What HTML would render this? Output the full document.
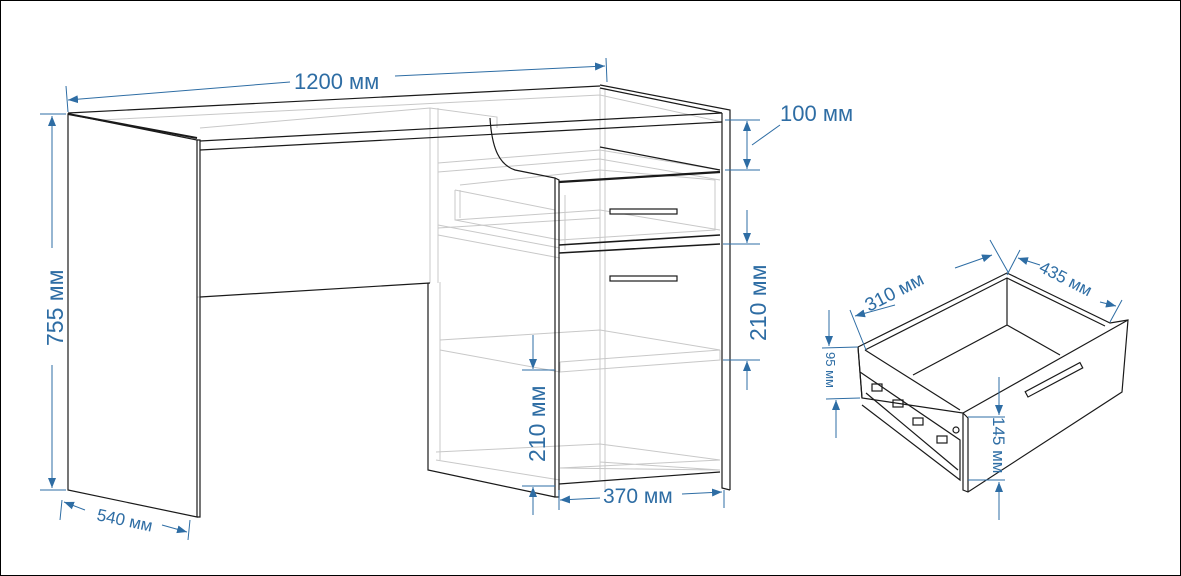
<!DOCTYPE html>
<html><head><meta charset="utf-8"><style>
html,body{margin:0;padding:0;background:#fff;}
svg{display:block;}
text{font-family:"Liberation Sans",sans-serif;fill:#2e6da4;}
</style></head><body>
<svg width="1181" height="576" viewBox="0 0 1181 576" xmlns="http://www.w3.org/2000/svg">
<defs>
<marker id="a" viewBox="0 0 10 10" refX="10" refY="5" markerWidth="10" markerHeight="10" orient="auto-start-reverse" markerUnits="userSpaceOnUse"><path d="M0,1 L10,5 L0,9 Z" fill="#2e6da4"/></marker>
</defs>
<rect x="0.5" y="0.5" width="1180" height="575" fill="#fff" stroke="#000"/>

<g stroke="#c8c8c8" fill="none" stroke-width="1">
<path d="M80,125 L80,300 L85,300 L85,128 M85,128 L197,148 M80,300 L200,297"/>
<path d="M200,128 L430,108 L497,117 L497,128 M430,108 L430,283 M438,108 L438,283"/>
<path d="M80,121 L600,95 L722,122 M600,88 L600,148 M605,88 L605,490 M600,148 L600,480"/>
<path d="M438,163 L600,150 L720,170 M438,172 L600,159 L720,180"/>
<path d="M455,190 L455,220 L560,240 M460,190 L460,218 M455,190 L555,210 M460,185 L600,170 L715,180 L715,230 L560,240 M455,220 L600,210 L720,230 M565,195 L565,250"/>
<path d="M438,225 L560,248 M438,235 L560,258 M438,228 L600,218"/>
<path d="M440,340 L600,330 L720,350 L560,362 M440,350 L560,372 M440,340 L440,350 M560,362 L560,372 L720,360 L720,350"/>
<path d="M436,452 L600,444 L720,460 L560,468 M436,460 L560,480 M560,468 L720,470 M600,444 L600,462 L720,470"/>
<path d="M440,282 L440,460"/>
</g>

<g stroke="#1a1a1a" fill="none" stroke-width="1.2">
<path d="M68,114 L68,490 L197,517 L197,140 Z" fill="#fff"/>
<path d="M197,140 L200,140 L200,517 L197,517" />
<path d="M68,114 L197,138" stroke-width="2"/>
<path d="M68,113 L600,86"/>
<path d="M200,141 L722,113 M200,150 L722,122"/>
<path d="M600,85 L730,110 L730,490 M600,88 L722,113"/>
<path d="M722,113 L722,488 L730,490" />
<path d="M200,297 L430,283"/>
<path d="M428,283 L428,470 L555,497"/>
<path d="M490,118 C492,150 500,165 515,170 L555,178 L555,497 L559,497 L559,180 L555,178"/>
<path d="M600,147 L720,170"/>
<path d="M559,182 L720,172" stroke-width="2.2"/>
<path d="M559,245 L720,235 M559,253 L720,244" stroke-width="1.6"/>
<path d="M559,484 L720,472"/>
<rect x="610" y="209" width="67" height="5" fill="#fff"/>
<rect x="610" y="276" width="67" height="5" fill="#fff"/>
</g>

<g stroke="#2e6da4" fill="none" stroke-width="1">
<path d="M66,86 L68,112 M606,58 L607,82"/>
<path d="M68,100 L290,82" marker-start="url(#a)"/>
<path d="M395,76 L605,66" marker-end="url(#a)"/>
<path d="M40,114 L66,114 M40,490 L66,490"/>
<path d="M52,248 L52,116" marker-end="url(#a)"/>
<path d="M52,365 L52,488" marker-end="url(#a)"/>
<path d="M62,500 L60,520 M190,520 L188,540"/>
<path d="M85,510 L64,502" marker-end="url(#a)"/>
<path d="M162,525 L187,532" marker-end="url(#a)"/>
<path d="M725,120 L760,120 M725,170 L760,170 M723,244 L760,244 M723,360 L760,360"/>
<path d="M747,145 L747,121" marker-end="url(#a)"/>
<path d="M747,145 L747,169" marker-end="url(#a)"/>
<path d="M747,210 L747,243" marker-end="url(#a)"/>
<path d="M747,390 L747,361" marker-end="url(#a)"/>
<path d="M752,145 L780,125"/>
<path d="M522,370 L555,370 M522,486 L555,486"/>
<path d="M533,335 L533,369" marker-end="url(#a)"/>
<path d="M533,515 L533,487" marker-end="url(#a)"/>
<path d="M559,490 L559,510 M724,490 L724,508"/>
<path d="M600,498 L560,500" marker-end="url(#a)"/>
<path d="M682,494 L722,492" marker-end="url(#a)"/>
</g>
<text x="294" y="89" font-size="22">1200 мм</text>
<text x="780" y="121" font-size="22">100 мм</text>
<text font-size="23" transform="translate(63,346) rotate(-90)">755 мм</text>
<text font-size="17" transform="translate(96,520) rotate(12)">540 мм</text>
<text font-size="23" transform="translate(766,341) rotate(-90)">210 мм</text>
<text font-size="23" transform="translate(545,462) rotate(-90)">210 мм</text>
<text x="603" y="503" font-size="21">370 мм</text>

<g stroke="#1a1a1a" fill="none" stroke-width="1.2">
<path d="M858,347 L1007,273 L1110,323 L1128,320 L1122,392 L968,492 L963,490 L963,413 L862,398 Z" fill="#fff"/>
<path d="M858,347 L862,398 M865,350 L1007,278 L1105,326 M865,350 L960,410"/>
<path d="M1007,278 L1007,325 L913,375 M1007,325 L1060,355"/>
<path d="M963,413 L1128,320 M968,418 L968,492 M963,413 L968,418"/>
<rect x="1028" y="391" width="62" height="6" transform="rotate(-28 1028 397)" fill="#fff"/>
<path d="M860,372 L960,440 L960,480 L862,405 M866,393 L958,470"/>
<rect x="872" y="384" width="10" height="7"/><rect x="893" y="400" width="10" height="7"/><rect x="913" y="418" width="10" height="7"/><rect x="937" y="436" width="10" height="7"/>
<circle cx="956" cy="430" r="3"/>
</g>
<g stroke="#2e6da4" fill="none" stroke-width="1">
<path d="M850,310 L866,350 M990,240 L1008,272 M1020,250 L1007,275 M1122,300 L1110,322"/>
<path d="M895,305 L855,316" marker-end="url(#a)"/>
<path d="M955,268 L992,255" marker-end="url(#a)"/>
<path d="M1040,265 L1018,258" marker-end="url(#a)"/>
<path d="M1100,302 L1116,306" marker-end="url(#a)"/>
<path d="M822,348 L858,347 M826,399 L860,398 M968,417 L1005,417 M968,480 L1005,480"/>
<path d="M829,310 L829,346" marker-end="url(#a)"/>
<path d="M836,438 L836,400" marker-end="url(#a)"/>
<path d="M999,377 L999,415" marker-end="url(#a)"/>
<path d="M999,520 L999,482" marker-end="url(#a)"/>
</g>
<text font-size="19" transform="translate(869,312) rotate(-27)">310 мм</text>
<text font-size="17" transform="translate(1038,271) rotate(27)">435 мм</text>
<text font-size="13" transform="translate(826,352) rotate(90)">95 мм</text>
<text font-size="17" transform="translate(993,417) rotate(90)">145 мм</text>
</svg>
</body></html>
